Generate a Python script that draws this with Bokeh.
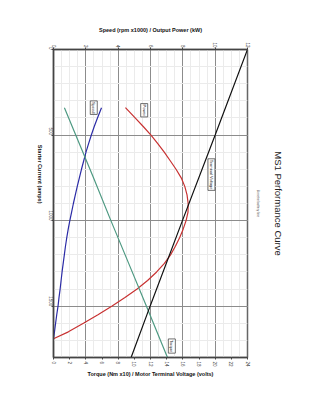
import math
from bokeh.plotting import figure
from bokeh.models import Range1d, LinearAxis, FixedTicker, Label, Title
from bokeh.embed import file_html
from bokeh.resources import INLINE

# ---- data ----
speed_current = [340, 400, 450, 500, 550, 600, 650, 700, 750, 800, 850, 900, 950, 1000, 1050,
                 1100, 1150, 1200, 1250, 1300, 1350, 1400, 1450, 1500, 1550, 1600, 1650, 1690]
speed_krpm = [2.97, 2.72, 2.52, 2.34, 2.17, 2.01, 1.87, 1.73, 1.60, 1.47, 1.35, 1.23, 1.12, 1.01, 0.91,
              0.82, 0.74, 0.67, 0.60, 0.53, 0.47, 0.41, 0.34, 0.28, 0.20, 0.13, 0.06, 0.0]

power_current = [340, 400, 450, 500, 550, 600, 650, 700, 750, 800, 850, 900, 950, 1000, 1050,
                 1100, 1150, 1200, 1250, 1300, 1350, 1400, 1450, 1500, 1550, 1600, 1650, 1690]
power_kw = [4.45, 5.05, 5.55, 6.03, 6.45, 6.85, 7.22, 7.58, 7.9, 8.12, 8.26, 8.33, 8.32, 8.2, 8.02,
            7.8, 7.54, 7.24, 6.86, 6.38, 5.82, 5.17, 4.42, 3.6, 2.75, 1.85, 0.92, 0.0]

torque_current = [340, 500, 750, 1000, 1250, 1500, 1800]
torque_nm10 = [1.35, 2.75, 4.95, 7.1, 9.3, 11.5, 14.1]

voltage_current = [0, 500, 1000, 1500, 1800]
voltage_v = [24.0, 20.0, 15.95, 11.95, 9.6]

top_ticks = [0, 2, 4, 6, 8, 10, 12]
top_minor = [0, 0.5, 1, 1.5, 2, 2.5, 3, 3.5, 4, 4.5, 5, 5.5, 6, 6.5, 7, 7.5, 8, 8.5, 9, 9.5, 10, 10.5, 11, 11.5, 12]
bottom_ticks = [0, 2, 4, 6, 8, 10, 12, 14, 16, 18, 20, 22, 24]
current_ticks = [0, 500, 1000, 1500]
current_minor = [0, 100, 200, 300, 400, 500, 600, 700, 800, 900, 1000, 1100, 1200, 1300, 1400, 1500, 1600, 1700, 1800]

FONT = "Liberation Sans"

p = figure(width=309, height=400, output_backend="svg", toolbar_location=None,
           x_range=Range1d(0, 12), y_range=Range1d(1800, 0),
           x_axis_location="above", y_axis_location="left",
           min_border_left=53, min_border_right=62, min_border_top=49, min_border_bottom=43)
p.extra_x_ranges = {"tv": Range1d(0, 24)}
bottom = LinearAxis(x_range_name="tv", ticker=FixedTicker(ticks=bottom_ticks))
p.add_layout(bottom, "below")

top = p.above[0]
left = p.left[0]
top.ticker = FixedTicker(ticks=top_ticks)
left.ticker = FixedTicker(ticks=current_ticks)

for ax in (top, left, bottom):
    ax.major_label_text_font = FONT
    ax.major_label_text_font_size = "4.5px"
    ax.major_label_text_color = "#444444"
    ax.major_label_orientation = -math.pi / 2
    ax.major_tick_in = 0
    ax.major_tick_out = 2
    ax.minor_tick_in = 0
    ax.minor_tick_out = 0
    ax.axis_line_color = "#444444"
    ax.axis_line_width = 1.5
    ax.major_tick_line_color = "#444444"
    ax.axis_label_text_font = FONT
    ax.axis_label_text_font_size = "5.5px"
    ax.axis_label_text_font_style = "bold"
    ax.axis_label_text_color = "#111111"

top.major_label_standoff = 0
top.axis_label = "Speed (rpm x1000) / Output Power (kW)"
top.axis_label_standoff = 6
bottom.major_label_standoff = 2
bottom.axis_label = "Torque (Nm x10) / Motor Terminal Voltage (volts)"
bottom.axis_label_standoff = 1
left.major_label_standoff = 1

left_label = "Starter Current (amps)"
if "axis_label_orientation" in left.properties():
    left.axis_label = left_label
    left.axis_label_orientation = -math.pi / 2
    left.axis_label_standoff = 4
else:
    left.axis_label = None
    p.add_layout(Title(text=left_label, align="center", vertical_align="middle",
                       text_font=FONT, text_font_size="5.5px", text_font_style="bold",
                       standoff=4), "left")

p.xgrid.ticker = FixedTicker(ticks=top_ticks, minor_ticks=top_minor)
p.ygrid.ticker = FixedTicker(ticks=current_ticks, minor_ticks=current_minor)
for g in (p.xgrid, p.ygrid):
    g.grid_line_color = "#8c8c8c"
    g.grid_line_width = 1
    g.minor_grid_line_color = "#ebebeb"
    g.minor_grid_line_width = 1

p.outline_line_color = "#666666"
p.outline_line_width = 1.5
p.background_fill_color = "white"
p.border_fill_color = "white"

# ---- curves ----
p.line(speed_krpm, speed_current, line_color="#2b2ba6", line_width=1.2)
p.line(power_kw, power_current, line_color="#c83232", line_width=1.2)
p.line(torque_nm10, torque_current, x_range_name="tv", line_color="#4f9a83", line_width=1.2)
p.line(voltage_v, voltage_current, x_range_name="tv", line_color="#111111", line_width=1.2)

# ---- curve labels ----
def tag(x, y, text):
    p.add_layout(Label(x=x, y=y, text=text, angle=-math.pi / 2,
                       text_align="center", text_baseline="middle",
                       text_font=FONT, text_font_size="4px", text_color="#222222",
                       border_line_color="#333333", border_line_width=0.7,
                       background_fill_color="white", padding=1))

tag(2.49, 340, "Speed")
tag(5.61, 355, "Power")
tag(9.77, 731, "Terminal Voltage")
tag(7.32, 1733, "Torque")

# ---- titles on the right (read top to bottom) ----
p.add_layout(Title(text="8 metre battery line", align="center", vertical_align="middle",
                   text_font=FONT, text_font_size="3.2px", text_font_style="normal",
                   text_color="#444444", standoff=15), "right")
p.add_layout(Title(text="MS1 Performance Curve", align="center", vertical_align="middle",
                   text_font=FONT, text_font_size="9.5px", text_font_style="normal",
                   text_color="#222222", standoff=6), "right")

open("out.html", "w").write(file_html(p, INLINE))
